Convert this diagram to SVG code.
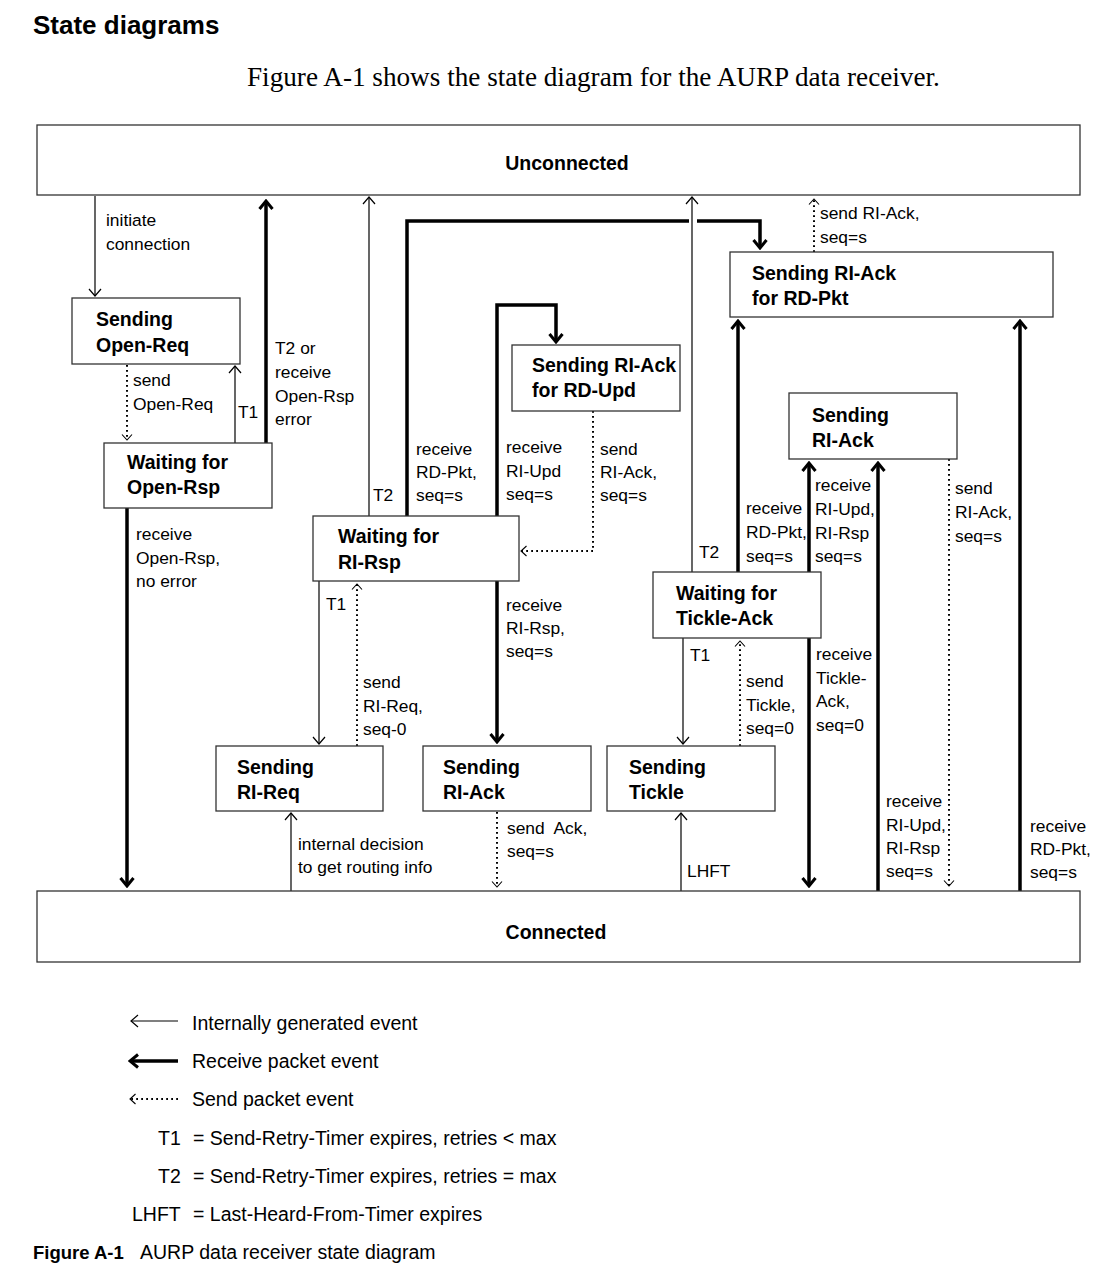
<svg xmlns="http://www.w3.org/2000/svg" width="1110" height="1280" viewBox="0 0 1110 1280">
<style>
.box{fill:#fff;stroke:#333;stroke-width:1.3}
.nt{font-family:"Liberation Sans",Arial,sans-serif;font-weight:bold;font-size:19.5px;fill:#000}
.lb{font-family:"Liberation Sans",Arial,sans-serif;font-size:17.4px;fill:#000}
.lg{font-family:"Liberation Sans",Arial,sans-serif;font-size:19.5px;fill:#000}
.thin{fill:none;stroke:#000;stroke-width:1.2;marker-end:url(#aThin)}
.thick{fill:none;stroke:#000;stroke-width:3.5;marker-end:url(#aThick)}
.dot{fill:none;stroke:#000;stroke-width:2;stroke-dasharray:1.8 3.2;marker-end:url(#aDot)}
</style>
<defs>
<marker id="aThin" viewBox="-10 -8 12 16" refX="0" refY="0" markerWidth="12" markerHeight="16" markerUnits="userSpaceOnUse" orient="auto">
<path d="M-7,-6 L0,0 L-7,6" fill="none" stroke="#000" stroke-width="1.2"/>
</marker>
<marker id="aThick" viewBox="-12 -9 14 18" refX="0" refY="0" markerWidth="14" markerHeight="18" markerUnits="userSpaceOnUse" orient="auto">
<path d="M-8,-6.5 L0,0 L-8,6.5" fill="none" stroke="#000" stroke-width="3"/>
</marker>
<marker id="aDot" viewBox="-8 -6 10 12" refX="0" refY="0" markerWidth="10" markerHeight="12" markerUnits="userSpaceOnUse" orient="auto">
<path d="M-5.5,-5 L0,0 L-5.5,5" fill="none" stroke="#000" stroke-width="1.1"/>
</marker>
</defs>
<rect width="1110" height="1280" fill="#fff"/>

<text x="33" y="34" font-family="Liberation Sans, Arial, sans-serif" font-weight="bold" font-size="26">State diagrams</text>
<text x="247" y="86" font-family="Liberation Serif, Times New Roman, serif" font-size="27.2">Figure A-1 shows the state diagram for the AURP data receiver.</text>

<g id="connectors">
 <g id="e-initiate">
  <path class="thin" d="M95,196 V296"/>
  <text class="lb" x="106" y="226">initiate</text>
  <text class="lb" x="106" y="250">connection</text>
 </g>
 <g id="e-send-open-req">
  <path class="dot" d="M127,365 V440"/>
  <text class="lb" x="133" y="386">send</text>
  <text class="lb" x="133" y="410">Open-Req</text>
 </g>
 <g id="e-t1-open">
  <path class="thin" d="M235,443 V366"/>
  <text class="lb" x="238" y="418">T1</text>
 </g>
 <g id="e-t2-open">
  <path class="thick" d="M266,443 V201"/>
  <text class="lb" x="275" y="354">T2 or</text>
  <text class="lb" x="275" y="378">receive</text>
  <text class="lb" x="275" y="402">Open-Rsp</text>
  <text class="lb" x="275" y="425">error</text>
 </g>
 <g id="e-open-rsp-ok">
  <path class="thick" d="M127,508 V886"/>
  <text class="lb" x="136" y="540">receive</text>
  <text class="lb" x="136" y="564">Open-Rsp,</text>
  <text class="lb" x="136" y="587">no error</text>
 </g>
 <g id="e-t2-rirsp">
  <path class="thin" d="M369,516 V197"/>
  <text class="lb" x="373" y="501">T2</text>
 </g>
 <g id="e-rdpkt-1">
  <path d="M407,516 V221 H689" fill="none" stroke="#000" stroke-width="3.5"/>
  <path class="thick" d="M697,221 H760 V248"/>
  <text class="lb" x="416" y="455">receive</text>
  <text class="lb" x="416" y="478">RD-Pkt,</text>
  <text class="lb" x="416" y="501">seq=s</text>
 </g>
 <g id="e-riupd-1">
  <path class="thick" d="M497,516 V305 H556 V342"/>
  <text class="lb" x="506" y="453">receive</text>
  <text class="lb" x="506" y="477">RI-Upd</text>
  <text class="lb" x="506" y="500">seq=s</text>
 </g>
 <g id="e-send-riack-1">
  <path class="dot" d="M593,411 V551 H521"/>
  <text class="lb" x="600" y="455">send</text>
  <text class="lb" x="600" y="478">RI-Ack,</text>
  <text class="lb" x="600" y="501">seq=s</text>
 </g>
 <g id="e-t1-rirsp">
  <path class="thin" d="M319,581 V744"/>
  <text class="lb" x="326" y="610">T1</text>
 </g>
 <g id="e-send-rireq">
  <path class="dot" d="M357,746 V584"/>
  <text class="lb" x="363" y="688">send</text>
  <text class="lb" x="363" y="712">RI-Req,</text>
  <text class="lb" x="363" y="735">seq-0</text>
 </g>
 <g id="e-rirsp">
  <path class="thick" d="M497,581 V742"/>
  <text class="lb" x="506" y="611">receive</text>
  <text class="lb" x="506" y="634">RI-Rsp,</text>
  <text class="lb" x="506" y="657">seq=s</text>
 </g>
 <g id="e-internal">
  <path class="thin" d="M291,891 V813"/>
  <text class="lb" x="298" y="850">internal decision</text>
  <text class="lb" x="298" y="873">to get routing info</text>
 </g>
 <g id="e-send-ack">
  <path class="dot" d="M497,812 V887"/>
  <text class="lb" x="507" y="834">send&#160; Ack,</text>
  <text class="lb" x="507" y="857">seq=s</text>
 </g>
 <g id="e-t2-tickle">
  <path class="thin" d="M692,572 V197"/>
  <text class="lb" x="699" y="558">T2</text>
 </g>
 <g id="e-rdpkt-2">
  <path class="thick" d="M738,572 V321"/>
  <text class="lb" x="746" y="514">receive</text>
  <text class="lb" x="746" y="538">RD-Pkt,</text>
  <text class="lb" x="746" y="562">seq=s</text>
 </g>
 <g id="e-riupd-2">
  <path class="thick" d="M809,572 V463"/>
  <text class="lb" x="815" y="491">receive</text>
  <text class="lb" x="815" y="515">RI-Upd,</text>
  <text class="lb" x="815" y="539">RI-Rsp</text>
  <text class="lb" x="815" y="562">seq=s</text>
 </g>
 <g id="e-send-riack-top">
  <path class="dot" d="M814,252 V199"/>
  <text class="lb" x="820" y="219">send RI-Ack,</text>
  <text class="lb" x="820" y="243">seq=s</text>
 </g>
 <g id="e-t1-tickle">
  <path class="thin" d="M683,638 V744"/>
  <text class="lb" x="690" y="661">T1</text>
 </g>
 <g id="e-send-tickle">
  <path class="dot" d="M740,746 V641"/>
  <text class="lb" x="746" y="687">send</text>
  <text class="lb" x="746" y="711">Tickle,</text>
  <text class="lb" x="746" y="734">seq=0</text>
 </g>
 <g id="e-tickle-ack">
  <path class="thick" d="M809,638 V886"/>
  <text class="lb" x="816" y="660">receive</text>
  <text class="lb" x="816" y="684">Tickle-</text>
  <text class="lb" x="816" y="707">Ack,</text>
  <text class="lb" x="816" y="731">seq=0</text>
 </g>
 <g id="e-lhft">
  <path class="thin" d="M681,891 V813"/>
  <text class="lb" x="687" y="877">LHFT</text>
 </g>
 <g id="e-riupd-3">
  <path class="thick" d="M878,891 V463"/>
  <text class="lb" x="886" y="807">receive</text>
  <text class="lb" x="886" y="831">RI-Upd,</text>
  <text class="lb" x="886" y="854">RI-Rsp</text>
  <text class="lb" x="886" y="877">seq=s</text>
 </g>
 <g id="e-send-riack-2">
  <path class="dot" d="M949,459 V886"/>
  <text class="lb" x="955" y="494">send</text>
  <text class="lb" x="955" y="518">RI-Ack,</text>
  <text class="lb" x="955" y="542">seq=s</text>
 </g>
 <g id="e-rdpkt-3">
  <path class="thick" d="M1020,891 V321"/>
  <text class="lb" x="1030" y="832">receive</text>
  <text class="lb" x="1030" y="855">RD-Pkt,</text>
  <text class="lb" x="1030" y="878">seq=s</text>
 </g>
</g>

<g id="unconnected">
 <rect class="box" x="37" y="125" width="1043" height="70"/>
 <text class="nt" x="567" y="170" text-anchor="middle">Unconnected</text>
</g>
<g id="connected">
 <rect class="box" x="37" y="891" width="1043" height="71"/>
 <text class="nt" x="556" y="939" text-anchor="middle">Connected</text>
</g>
<g id="sending-open-req">
 <rect class="box" x="72" y="298" width="168" height="66"/>
 <text class="nt" x="96" y="326">Sending</text>
 <text class="nt" x="96" y="352">Open-Req</text>
</g>
<g id="waiting-open-rsp">
 <rect class="box" x="104" y="443" width="168" height="65"/>
 <text class="nt" x="127" y="469">Waiting for</text>
 <text class="nt" x="127" y="494">Open-Rsp</text>
</g>
<g id="waiting-ri-rsp">
 <rect class="box" x="313" y="516" width="206" height="65"/>
 <text class="nt" x="338" y="543">Waiting for</text>
 <text class="nt" x="338" y="569">RI-Rsp</text>
</g>
<g id="sending-ri-ack-rd-upd">
 <rect class="box" x="512" y="345" width="168" height="66"/>
 <text class="nt" x="532" y="372">Sending RI-Ack</text>
 <text class="nt" x="532" y="397">for RD-Upd</text>
</g>
<g id="sending-ri-ack-rd-pkt">
 <rect class="box" x="730" y="252" width="323" height="65"/>
 <text class="nt" x="752" y="280">Sending RI-Ack</text>
 <text class="nt" x="752" y="305">for RD-Pkt</text>
</g>
<g id="sending-ri-ack-right">
 <rect class="box" x="789" y="393" width="168" height="66"/>
 <text class="nt" x="812" y="422">Sending</text>
 <text class="nt" x="812" y="447">RI-Ack</text>
</g>
<g id="waiting-tickle-ack">
 <rect class="box" x="653" y="572" width="168" height="66"/>
 <text class="nt" x="676" y="600">Waiting for</text>
 <text class="nt" x="676" y="625">Tickle-Ack</text>
</g>
<g id="sending-ri-req">
 <rect class="box" x="216" y="746" width="167" height="65"/>
 <text class="nt" x="237" y="774">Sending</text>
 <text class="nt" x="237" y="799">RI-Req</text>
</g>
<g id="sending-ri-ack-mid">
 <rect class="box" x="423" y="746" width="168" height="65"/>
 <text class="nt" x="443" y="774">Sending</text>
 <text class="nt" x="443" y="799">RI-Ack</text>
</g>
<g id="sending-tickle">
 <rect class="box" x="607" y="746" width="168" height="65"/>
 <text class="nt" x="629" y="774">Sending</text>
 <text class="nt" x="629" y="799">Tickle</text>
</g>

<g id="legend">
 <path d="M178,1021 H131" fill="none" stroke="#000" stroke-width="1.2" marker-end="url(#aThin)"/>
 <text class="lg" x="192" y="1030">Internally generated event</text>
 <path d="M178,1061 H130" fill="none" stroke="#000" stroke-width="3.5" marker-end="url(#aThick)"/>
 <text class="lg" x="192" y="1068">Receive packet event</text>
 <path d="M178,1099 H130" fill="none" stroke="#000" stroke-width="1.8" stroke-dasharray="1.8 3.2" marker-end="url(#aDot)"/>
 <text class="lg" x="192" y="1106">Send packet event</text>
 <text class="lg" x="158" y="1145">T1</text>
 <text class="lg" x="193" y="1145">= Send-Retry-Timer expires, retries &lt; max</text>
 <text class="lg" x="158" y="1183">T2</text>
 <text class="lg" x="193" y="1183">= Send-Retry-Timer expires, retries = max</text>
 <text class="lg" x="132" y="1221">LHFT</text>
 <text class="lg" x="193" y="1221">= Last-Heard-From-Timer expires</text>
 <text x="33" y="1259" font-family="Liberation Sans, Arial, sans-serif" font-weight="bold" font-size="18.5">Figure A-1</text>
 <text class="lg" x="140" y="1259">AURP data receiver state diagram</text>
</g>
</svg>
